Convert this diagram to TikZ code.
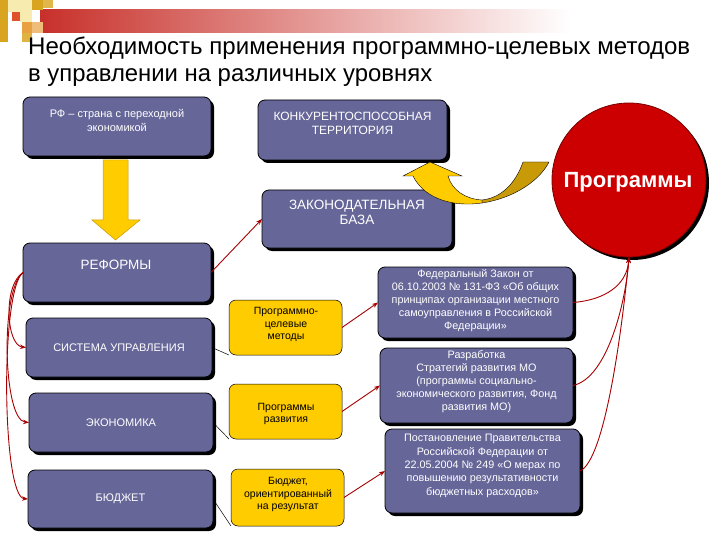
\documentclass[tikz,border=0pt]{standalone}
\usepackage{fontspec}
\usepackage{graphicx}
\setmainfont{Liberation Sans}
\usetikzlibrary{arrows.meta,shadows}
\definecolor{boxblue}{HTML}{666699}
\definecolor{callyel}{HTML}{FFCC00}
\definecolor{arrgold}{HTML}{C89A08}
\definecolor{progred}{HTML}{CC0000}
\definecolor{linkred}{HTML}{A80000}
\definecolor{hdrred}{HTML}{C8302A}
\definecolor{sqgold}{HTML}{D9A520}
\definecolor{sqpale}{HTML}{F8EBB0}
\definecolor{sqorange}{HTML}{E8A040}
\definecolor{sqred}{HTML}{E0502A}
\begin{document}
\begin{tikzpicture}[x=1pt,y=-1pt,
  darkbox/.style={draw=black, line width=0.8pt, fill=boxblue, rounded corners=7pt,
    inner sep=0pt, outer sep=0pt,
    drop shadow={shadow xshift=3pt, shadow yshift=-3pt, fill=black, opacity=1}},
  yelbox/.style={draw=black, line width=0.5pt, fill=callyel, rounded corners=7pt,
    inner sep=0pt, outer sep=0pt, align=center, font=\fontsize{10.5}{12.5}\selectfont},
  wtext/.style={text=white, align=center, inner sep=0pt},
  redlink/.style={draw=linkred, line width=0.9pt, -{Stealth[length=6pt,width=4.5pt]}},
  calloutline/.style={draw=black, line width=0.5pt}
]
\useasboundingbox (0,0) rectangle (720,540);
\fill[white] (0,0) rectangle (720,540);

% header decoration
\shade[left color=hdrred, right color=white] (40,10) rectangle (570,33);
\fill[sqgold] (0,0) rectangle (8,42);
\fill[sqpale] (8,0) rectangle (32,12);
\fill[sqred] (12,12) rectangle (20,21);
\fill[sqpale] (20,12) rectangle (32,22);
\fill[sqgold] (32,0) rectangle (43,10);
\fill[sqgold!80] (43,0) rectangle (53,8);
\fill[sqorange] (22,22) rectangle (32,33);
\fill[sqorange!70] (32,22) rectangle (43,33);
\fill[sqgold!85] (22,33) rectangle (32,42);

% title
\node[anchor=base west, inner sep=0pt, font=\fontsize{24}{28}\selectfont] (title1) at (28,55)
  {\resizebox{662pt}{\height}{Необходимость применения программно-целевых методов}};
\node[anchor=base west, inner sep=0pt, font=\fontsize{24}{28}\selectfont] (title2) at (28,82)
  {\resizebox{404pt}{\height}{в управлении на различных уровнях}};

% dark boxes
\node[darkbox, minimum width=188pt, minimum height=59pt] (rf) at (117,126.5) {};
\node[wtext, font=\fontsize{11}{14}\selectfont] (rft) at (117,120) {РФ – страна с переходной\\экономикой};
\node[darkbox, minimum width=189pt, minimum height=60pt] (konk) at (352.5,130) {};
\node[wtext, font=\fontsize{12}{14}\selectfont] (konkt) at (352.5,123) {КОНКУРЕНТОСПОСОБНАЯ\\ТЕРРИТОРИЯ};
\node[darkbox, minimum width=190pt, minimum height=58pt] (zak) at (357,219) {};
\node[wtext, font=\fontsize{13.5}{15}\selectfont] (zakt) at (357,212.5) {ЗАКОНОДАТЕЛЬНАЯ\\БАЗА};
\node[darkbox, minimum width=188pt, minimum height=59pt] (ref) at (117,272.5) {};
\node[wtext, font=\fontsize{13.5}{15}\selectfont] (reft) at (116,265) {РЕФОРМЫ};
\node[darkbox, minimum width=186pt, minimum height=59pt, text=white,
  font=\fontsize{11}{13}\selectfont] (sys) at (119,347.5) {СИСТЕМА УПРАВЛЕНИЯ};
\node[darkbox, minimum width=184pt, minimum height=59pt, text=white,
  font=\fontsize{11}{13}\selectfont] (eco) at (121,422.5) {ЭКОНОМИКА};
\node[darkbox, minimum width=185pt, minimum height=58pt, text=white,
  font=\fontsize{11}{13}\selectfont] (bud) at (120.5,499) {БЮДЖЕТ};

% right column boxes
\node[darkbox, minimum width=195pt, minimum height=71pt] (fz) at (475.5,302.5) {};
\node[wtext, font=\fontsize{10.8}{13}\selectfont] (fzt) at (475.5,300.5)
  {Федеральный Закон от\\06.10.2003 № 131-ФЗ «Об общих\\принципах организации местного\\самоуправления в Российской\\Федерации»};
\node[darkbox, minimum width=193pt, minimum height=75pt] (raz) at (476.5,385.5) {};
\node[wtext, font=\fontsize{10.8}{13}\selectfont] (razt) at (476.5,381.5)
  {Разработка\\Стратегий развития МО\\(программы социально-\\экономического развития, Фонд\\развития МО)};
\node[darkbox, minimum width=195pt, minimum height=84pt] (post) at (482.5,471) {};
\node[wtext, font=\fontsize{10.8}{13.4}\selectfont] (postt) at (482.5,466)
  {Постановление Правительства\\Российской Федерации от\\22.05.2004 № 249 «О мерах по\\повышению результативности\\бюджетных расходов»};

% yellow callouts
\node[yelbox, minimum width=113pt, minimum height=55pt] (y1) at (285.5,327.5) {};
\node[inner sep=0pt, align=center, font=\fontsize{10.5}{12.5}\selectfont] (y1t) at (286,324.5) {Программно-\\целевые\\методы};
\node[yelbox, minimum width=113pt, minimum height=55pt] (y2) at (285.5,411.5) {};
\node[inner sep=0pt, align=center, font=\fontsize{10.5}{12.5}\selectfont] (y2t) at (286,414) {Программы\\развития};
\node[yelbox, minimum width=113pt, minimum height=57pt] (y3) at (287.5,497.5) {};
\node[inner sep=0pt, align=center, font=\fontsize{10.5}{12.5}\selectfont] (y3t) at (288,494.5) {Бюджет,\\ориентированный\\на результат};

% callout pointers
\draw[calloutline] (sys.east) -- (y1.south west);
\draw[calloutline] (eco.east) -- (y2.south west);
\draw[calloutline] (bud.east) -- (y3.south west);

% circle
\node[circle, minimum size=154pt, inner sep=0pt, outer sep=0pt, fill=progred,
  draw=progred!60!black, line width=0.8pt,
  drop shadow={shadow xshift=3pt, shadow yshift=-3pt, fill=black, opacity=1}] (prog) at (629,180) {};
\node[text=white, inner sep=0pt, font=\bfseries\fontsize{22}{26}\selectfont] (progt) at (628,182) {Программы};

% yellow down arrow
\filldraw[fill=callyel, draw=arrgold, line width=0.5pt]
  (103,160) -- (128,160) -- (128,220) -- (140,220) -- (115.5,240) -- (92,220) -- (103,220) -- cycle;

% curved yellow arrow
\filldraw[fill=arrgold, draw=black, line width=0.4pt]
  (482,203) .. controls (515,198) and (540,180) .. (549,162) -- (523,162)
  .. controls (515,185) and (500,198) .. (482,200) -- cycle;
\filldraw[fill=callyel, draw=black, line width=0.4pt]
  (413,176) -- (403,176) -- (430,162) -- (462,176) -- (448,176)
  .. controls (452,190) and (465,199) .. (482,200) -- (482,203)
  .. controls (455,207) and (425,200) .. (413,176) -- cycle;

% red connectors
\draw[redlink] (ref.east) -- (zak.west);
\draw[redlink] (y1.east) -- (fz.west);
\draw[redlink] (y2.east) -- (raz.west);
\draw[redlink] (y3.east) -- (post.west);
\draw[redlink] (ref.west) .. controls (3,285) and (6,345) .. (sys.west);
\draw[redlink] (ref.west) .. controls (0,290) and (3,420) .. (eco.west);
\draw[redlink] (ref.west) .. controls (0,290) and (2,497) .. (bud.west);
\draw[redlink] (fz.east) .. controls (605,300) and (627,285) .. (prog.south);
\draw[redlink] (raz.east) .. controls (608,378) and (626,300) .. (prog.south);
\draw[redlink] (post.east) .. controls (605,460) and (622,330) .. (prog.south);
\end{tikzpicture}
\end{document}
